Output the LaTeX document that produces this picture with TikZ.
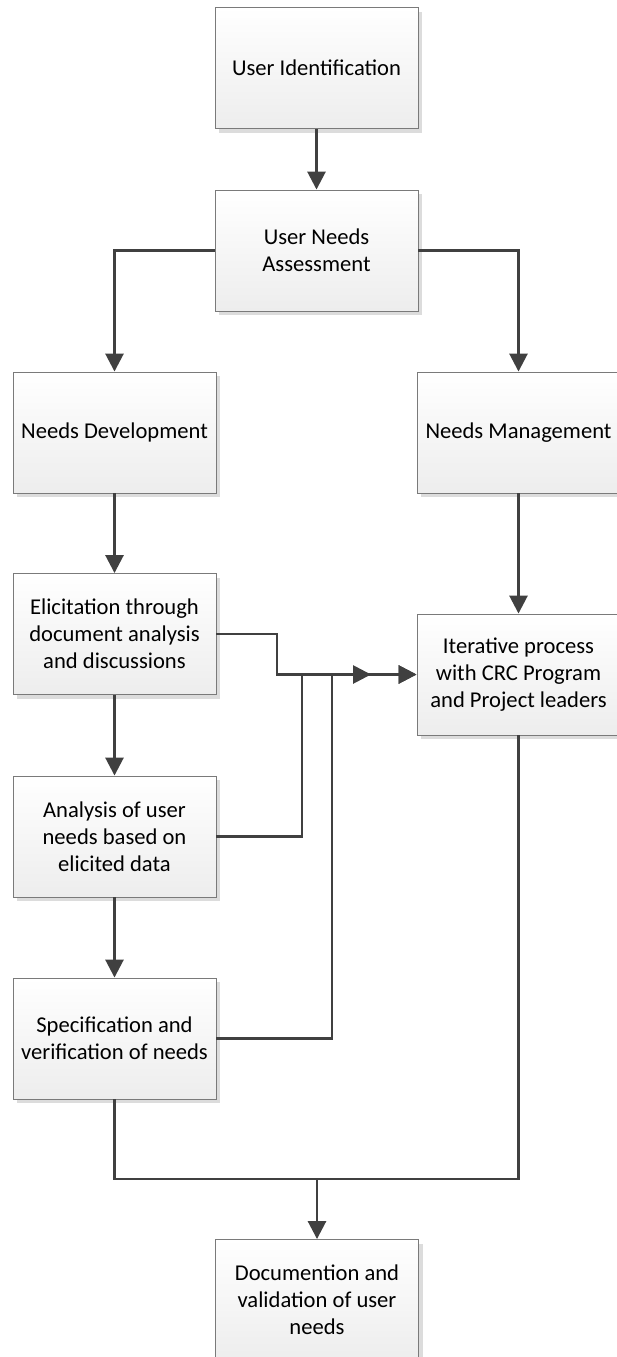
\documentclass[tikz,border=0pt]{standalone}
\usepackage{fontspec}
\setmainfont{Carlito}
\usetikzlibrary{arrows.meta,shadows}
\definecolor{linec}{HTML}{404040}
\definecolor{boxline}{HTML}{7A7A7A}
\definecolor{boxbot}{HTML}{EDEDED}
\definecolor{shadowc}{HTML}{DCDCDC}
\begin{document}
\begin{tikzpicture}[x=1pt,y=-1pt,
  procbox/.style={rectangle, draw=boxline, line width=0.9pt,
    top color=white, bottom color=boxbot,
    minimum width=203pt, minimum height=121pt, inner sep=2pt,
    align=center, font=\fontsize{22.6}{27}\selectfont,
    drop shadow={shadow xshift=4pt, shadow yshift=-4pt, fill=shadowc, opacity=1}},
  conn/.style={draw=linec, line width=2.8pt, line join=miter},
  arr/.style={conn, -{Triangle[length=18pt,width=18pt]}}]
\useasboundingbox (0,0) rectangle (616,1357);
\fill[white] (0,0) rectangle (616,1357);

\node[procbox] (ui)  at (316.5,68)    {User Identification};
\node[procbox] (una) at (316.5,250.5) {User Needs\\Assessment};
\node[procbox] (nd)  at (114.5,432.5) {Needs Development};
\node[procbox] (nm)  at (518.5,432.5) {Needs Management};
\node[procbox] (el)  at (114.5,634)   {Elicitation through\\document analysis\\and discussions};
\node[procbox] (an)  at (114.5,836.5) {Analysis of user\\needs based on\\elicited data};
\node[procbox] (sp)  at (114.5,1038.5){Specification and\\verification of needs};
\node[procbox] (it)  at (518.5,674.5) {Iterative process\\with CRC Program\\and Project leaders};
\node[procbox] (doc) at (317,1300)    {Documention and\\validation of user\\needs};

\coordinate (j1) at (277,674.5);
\coordinate (j2) at (302,674.5);
\coordinate (j3) at (332,674.5);
\coordinate (mid) at (371,674.5);
\coordinate (bl) at (114.5,1179);
\coordinate (bm) at (317,1179);
\coordinate (br) at (518.5,1179);

\draw[arr] (ui.south) -- (una.north);
\draw[arr] (una.west) -| (nd.north);
\draw[arr] (una.east) -| (nm.north);
\draw[arr] (nd.south) -- (el.north);
\draw[arr] (el.south) -- (an.north);
\draw[arr] (an.south) -- (sp.north);
\draw[arr] (nm.south) -- (it.north);

\draw[arr] (el.east) -| (j1) -- (it.west);
\draw[arr] (an.east) -| (j2) -- (mid);
\draw[arr] (sp.east) -| (j3) -- (it.west);

\draw[conn] (sp.south) -- (bl) -- (br) -- (it.south);
\draw[arr] (bm) -- (doc.north);
\end{tikzpicture}
\end{document}
